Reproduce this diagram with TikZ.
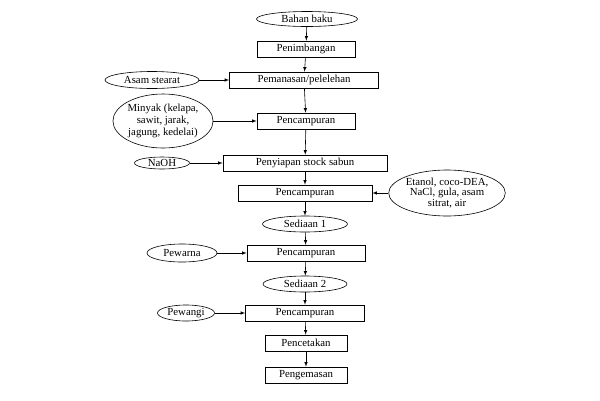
\documentclass[tikz,border=0pt]{standalone}
\usepackage{fontspec}
\setmainfont{Liberation Serif}
\usetikzlibrary{arrows,arrows.meta,positioning,shapes}
\tikzset{>=latex}

\begin{document}
\begin{tikzpicture}[x=1pt, y=-1pt, line width=0.6pt, font=\fontsize{10.8}{12}\selectfont,
		stage/.style={draw, minimum height=16pt, inner sep=1pt},
		feed/.style={draw, ellipse, inner sep=0pt, align=center}]
		\useasboundingbox (0,0) rectangle (600,400);
		
		\node[feed,minimum width=101pt,minimum height=15pt] (bahan) at (307,19) {Bahan baku};
		\node[stage,minimum width=98pt] (timbang) at (306,49) {Penimbangan};
		\node[stage,minimum width=149pt] (panas) at (304,80) {Pemanasan/pelelehan};
		\node[stage,minimum width=98pt] (campura) at (306,121) {Pencampuran};
		\node[stage,minimum width=164pt] (siap) at (305,163) {Penyiapan stock sabun};
		\node[stage,minimum width=134pt] (campurb) at (305,193) {Pencampuran};
		\node[feed,minimum width=85pt,minimum height=16pt] (sediaana) at (305,224) {Sediaan 1};
		\node[stage,minimum width=118pt] (campurc) at (306,253) {Pencampuran};
		\node[feed,minimum width=84pt,minimum height=16pt] (sediaanb) at (305,284) {Sediaan 2};
		\node[stage,minimum width=119pt] (campurd) at (305,313) {Pencampuran};
		\node[stage,minimum width=82pt] (cetak) at (306,343) {Pencetakan};
		\node[stage,minimum width=82pt] (kemas) at (306,375) {Pengemasan};
		
		\node[feed,minimum width=94pt,minimum height=17pt] (stearat) at (152,80) {Asam stearat};
		\node[feed,minimum width=96pt,minimum height=54pt] (minyak) at (163,121) {Minyak (kelapa,\\ sawit, jarak,\\ jagung, kedelai)};
		\node[feed,minimum width=55pt,minimum height=12pt] (naoh) at (162,163) {NaOH};
		\node[feed,minimum width=109pt,minimum height=46pt,font=\fontsize{10.8}{10.5}\selectfont] (etanol) at (447,193) {Etanol, coco-DEA,\\ NaCl, gula, asam\\ sitrat, air};
		\node[feed,minimum width=70pt,minimum height=18pt] (pewarna) at (182,253) {Pewarna};
		\node[feed,minimum width=57pt,minimum height=16pt] (pewangi) at (186,313) {Pewangi};
		
		\foreach \a/\b in {bahan/timbang, timbang/panas, panas/campura, campura/siap, siap/campurb,
			campurb/sediaana, sediaana/campurc, campurc/sediaanb, sediaanb/campurd, campurd/cetak, cetak/kemas}
			\draw[->] (\a) -- (\b);
		
		\draw[->] (stearat) -- (panas);
		\draw[->] (minyak) -- (campura);
		\draw[->] (naoh) -- (siap);
		\draw[->] (etanol) -- (campurb);
		\draw[->] (pewarna) -- (campurc);
		\draw[->] (pewangi) -- (campurd);
	\end{tikzpicture}
\end{document}
